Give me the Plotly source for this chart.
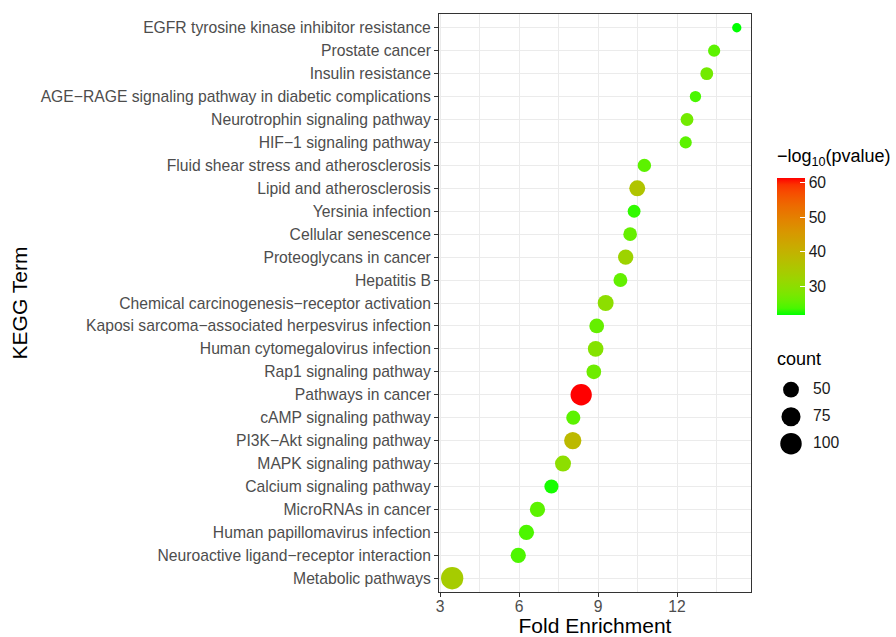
import numpy as np
import plotly.graph_objects as go

terms = [
    "EGFR tyrosine kinase inhibitor resistance",
    "Prostate cancer",
    "Insulin resistance",
    "AGE−RAGE signaling pathway in diabetic complications",
    "Neurotrophin signaling pathway",
    "HIF−1 signaling pathway",
    "Fluid shear stress and atherosclerosis",
    "Lipid and atherosclerosis",
    "Yersinia infection",
    "Cellular senescence",
    "Proteoglycans in cancer",
    "Hepatitis B",
    "Chemical carcinogenesis−receptor activation",
    "Kaposi sarcoma−associated herpesvirus infection",
    "Human cytomegalovirus infection",
    "Rap1 signaling pathway",
    "Pathways in cancer",
    "cAMP signaling pathway",
    "PI3K−Akt signaling pathway",
    "MAPK signaling pathway",
    "Calcium signaling pathway",
    "MicroRNAs in cancer",
    "Human papillomavirus infection",
    "Neuroactive ligand−receptor interaction",
    "Metabolic pathways",
]
fold_enrichment = [14.27, 13.41, 13.13, 12.70, 12.38, 12.33, 10.76, 10.49, 10.37, 10.22,
                   10.05, 9.85, 9.29, 8.95, 8.91, 8.84, 8.36, 8.06, 8.04, 7.67,
                   7.23, 6.70, 6.28, 5.97, 3.46]
counts = [30, 34, 36, 32, 36, 34, 38, 51, 36, 39, 47, 40, 51, 44, 49, 44, 98, 41, 60, 51,
          41, 47, 47, 47, 110]
neg_log10_p = [21.7, 25.0, 27.0, 23.7, 27.0, 25.0, 25.0, 36.0, 23.0, 25.7, 32.5, 25.5, 30.0,
               25.7, 29.0, 26.5, 61.4, 25.0, 38.5, 30.0, 22.3, 25.0, 24.0, 24.0, 34.0]
x_ticks = [3, 6, 9, 12]
cbar_ticks = [30, 40, 50, 60]
size_breaks = [50, 75, 100]

# ---- styling helpers ----
CMIN_C, CMAX_C = min(counts), max(counts)


def size_px(c):
    return 9.3 + 13.0 * np.sqrt(max(c - CMIN_C, 0) / (CMAX_C - CMIN_C))


def _lin(c):
    c = c / 255.0
    return c / 12.92 if c <= 0.04045 else ((c + 0.055) / 1.055) ** 2.4


def _gam(c):
    c = 12.92 * c if c <= 0.0031308 else 1.055 * c ** (1 / 2.4) - 0.055
    return int(round(min(max(c, 0), 1) * 255))


M = np.array([[0.4124, 0.3576, 0.1805], [0.2126, 0.7152, 0.0722], [0.0193, 0.1192, 0.9505]])
Minv = np.linalg.inv(M)
WHITE = M @ np.ones(3)


def rgb2lab(rgb):
    xyz = M @ np.array([_lin(v) for v in rgb]) / WHITE
    f = np.where(xyz > 0.008856, np.cbrt(xyz), 7.787 * xyz + 16 / 116)
    return np.array([116 * f[1] - 16, 500 * (f[0] - f[1]), 200 * (f[1] - f[2])])


def lab2rgb(lab):
    fy = (lab[0] + 16) / 116
    fx = fy + lab[1] / 500
    fz = fy - lab[2] / 200
    f = np.array([fx, fy, fz])
    xyz = np.where(f > 0.2069, f ** 3, (f - 16 / 116) / 7.787) * WHITE
    lin = Minv @ xyz
    return tuple(_gam(v) for v in lin)


g_lab, r_lab = rgb2lab((0, 255, 0)), rgb2lab((255, 0, 0))
colorscale = []
for t in np.linspace(0, 1, 21):
    r, g, b = lab2rgb(g_lab + (r_lab - g_lab) * t)
    colorscale.append([float(t), f"rgb({r},{g},{b})"])

W, H = 896, 637
L, R, T, B = 439, 751, 14, 592
FONT = "Liberation Sans, Arial, Helvetica, sans-serif"
TICK_SIZE = 15.7


def px_x(p):
    return p / W


def px_y(p):
    return 1 - p / H


fig = go.Figure()
fig.add_trace(go.Scatter(
    x=fold_enrichment, y=terms, mode="markers",
    marker=dict(size=[size_px(c) for c in counts], color=neg_log10_p,
                colorscale=colorscale, cmin=min(neg_log10_p), cmax=max(neg_log10_p),
                opacity=1, line=dict(width=0),
                colorbar=dict(
                    x=px_x(777), xanchor="left", xpad=0,
                    y=px_y((178 + 315) / 2), yanchor="middle",
                    thickness=28, thicknessmode="pixels",
                    len=137, lenmode="pixels",
                    outlinewidth=0, tickvals=cbar_ticks,
                    ticks="inside", ticklen=5, tickcolor="white", tickwidth=1,
                    ticklabelposition="outside",
                    tickfont=dict(family=FONT, size=TICK_SIZE, color="#1a1a1a"),
                    ypad=0,
                )),
    showlegend=False, hoverinfo="x+y",
))

# size legend on auxiliary axes
leg_y = list(range(len(size_breaks), 0, -1))
fig.add_trace(go.Scatter(
    x=[0.5] * len(size_breaks), y=leg_y,
    mode="markers", xaxis="x2", yaxis="y2", cliponaxis=False,
    marker=dict(size=[size_px(c) for c in size_breaks], color="#000000", opacity=1,
                line=dict(width=0)),
    showlegend=False, hoverinfo="skip",
))
fig.add_trace(go.Scatter(
    x=[1.0] * len(size_breaks), y=leg_y,
    mode="text", text=[str(s) for s in size_breaks], textposition="middle right",
    textfont=dict(family=FONT, size=TICK_SIZE, color="#1a1a1a"), cliponaxis=False,
    xaxis="x2", yaxis="y2", showlegend=False, hoverinfo="skip",
))

grid = "#EBEBEB"
fig.update_layout(
    width=W, height=H,
    margin=dict(l=0, r=0, t=0, b=0, autoexpand=False),
    paper_bgcolor="white", plot_bgcolor="white",
    font=dict(family=FONT, color="#000000"),
    xaxis=dict(
        domain=[px_x(L), px_x(R)], anchor="y",
        range=[2.96, 14.81], tickvals=x_ticks, ticks="outside", ticklen=4,
        tickcolor="#333333", tickwidth=1, ticklabelstandoff=-4,
        tickfont=dict(family=FONT, size=TICK_SIZE, color="#4D4D4D"),
        showgrid=True, gridcolor=grid, gridwidth=1.3,
        minor=dict(tick0=4.5, dtick=3, showgrid=True, gridcolor=grid, gridwidth=0.8, ticks=""),
        showline=True, mirror=True, linecolor="#333333", linewidth=1,
        zeroline=False, automargin=False,
        title=dict(text="Fold Enrichment", font=dict(family=FONT, size=21, color="#000000"),
                   standoff=17),
    ),
    yaxis=dict(
        domain=[px_y(B), px_y(T)], anchor="x",
        type="category", categoryorder="array", categoryarray=terms[::-1],
        range=[-0.6, len(terms) - 0.4], ticks="outside", ticklen=4,
        tickcolor="#333333", tickwidth=1,
        tickfont=dict(family=FONT, size=TICK_SIZE, color="#4D4D4D"),
        showgrid=True, gridcolor=grid, gridwidth=1.3,
        showline=True, mirror=True, linecolor="#333333", linewidth=1,
        zeroline=False, automargin=False,
        title=dict(text="KEGG Term", font=dict(family=FONT, size=21, color="#000000"),
                   standoff=7),
    ),
    xaxis2=dict(domain=[px_x(769), px_x(813)], range=[0, 1], anchor="y2",
                visible=False, fixedrange=True),
    yaxis2=dict(domain=[px_y(470.7), px_y(362.7)], range=[0, 4], anchor="x2",
                visible=False, fixedrange=True),
    annotations=[
        dict(text="−log<sub>10</sub>(pvalue)", x=px_x(775), y=px_y(158), xref="paper",
             yref="paper", xanchor="left", yanchor="middle", showarrow=False,
             font=dict(family=FONT, size=18, color="#000000")),
        dict(text="count", x=px_x(775), y=px_y(359), xref="paper", yref="paper",
             xanchor="left", yanchor="middle", showarrow=False,
             font=dict(family=FONT, size=18, color="#000000")),
    ],
)

fig.write_html(
    "out.html",
    config={"displayModeBar": False},
    post_script="document.body.style.margin='0px'; document.body.style.overflow='hidden';",
)
